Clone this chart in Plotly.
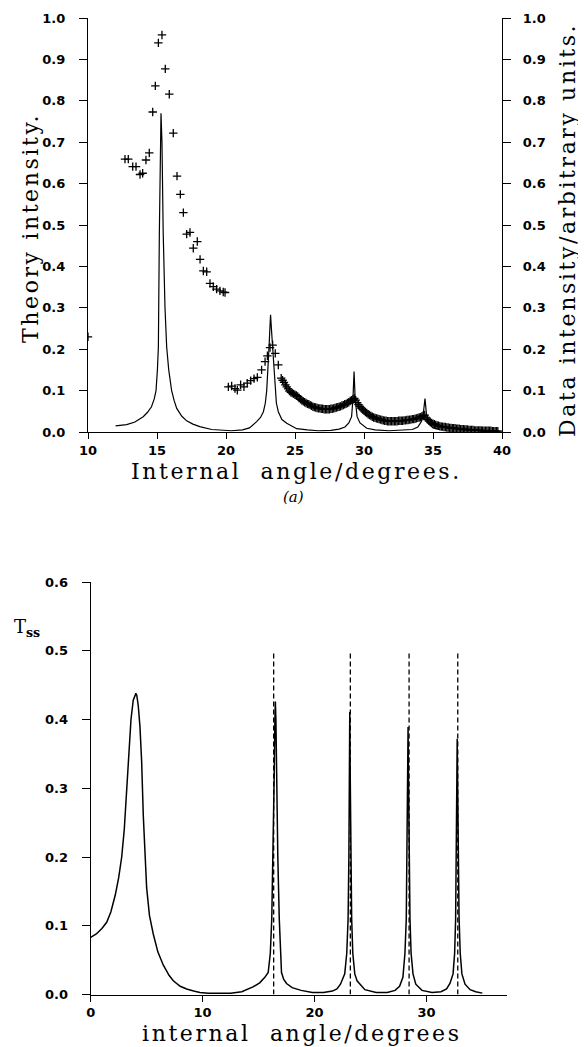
import plotly.graph_objects as go

# ---------------- Panel (a): theory curve (left axis) ----------------
theory_x = [12.0, 12.8, 13.4, 14.0, 14.3, 14.6, 14.8, 14.93, 15.03, 15.1, 15.17, 15.23, 15.29,
            15.36, 15.45, 15.58, 15.7, 15.85, 16.06, 16.25, 16.43, 16.8, 17.15, 17.6, 18.1, 18.96,
            19.7, 20.4, 21.2, 21.7, 22.22, 22.5, 22.71, 22.85, 22.95, 23.05, 23.12, 23.18, 23.23,
            23.29, 23.38, 23.46, 23.55, 23.65, 23.79, 24.05, 24.4, 25.12, 25.9, 26.69, 27.6, 28.2,
            28.62, 28.9, 29.1, 29.2, 29.28, 29.36, 29.5, 29.71, 30.2, 30.8, 31.8, 32.8, 33.5,
            33.9, 34.15, 34.3, 34.42, 34.52, 34.7, 35.0, 35.5]
theory_y = [0.015, 0.018, 0.024, 0.037, 0.047, 0.061, 0.080, 0.100, 0.150, 0.206, 0.480, 0.700, 0.770,
            0.700, 0.480, 0.300, 0.206, 0.150, 0.100, 0.075, 0.057, 0.038, 0.027, 0.019, 0.013, 0.006,
            0.004, 0.003, 0.005, 0.010, 0.025, 0.035, 0.049, 0.070, 0.100, 0.150, 0.206, 0.250, 0.283,
            0.250, 0.206, 0.150, 0.100, 0.070, 0.049, 0.030, 0.021, 0.008, 0.005, 0.003, 0.004, 0.007,
            0.012, 0.022, 0.037, 0.080, 0.146, 0.080, 0.037, 0.022, 0.009, 0.005, 0.003, 0.004, 0.006,
            0.012, 0.025, 0.045, 0.081, 0.045, 0.020, 0.010, 0.006]

# ---------------- Panel (a): measured data (right axis) ----------------
data_x = [10.0, 12.68, 12.92, 13.24, 13.48, 13.77, 13.96, 14.2, 14.44, 14.69, 14.88, 15.1, 15.36,
          15.6, 15.89, 16.18, 16.45, 16.69, 16.91, 17.15, 17.39, 17.63, 17.92, 18.12, 18.36, 18.6,
          18.84, 19.08, 19.32, 19.56, 19.8, 19.93,
          20.17, 20.41, 20.65, 20.82, 21.06, 21.3, 21.54, 21.79, 22.03, 22.27, 22.58, 22.83, 23.0,
          23.19, 23.38, 23.57, 23.79,
          24.0, 24.1, 24.2, 24.3, 24.4, 24.5, 24.6, 24.7, 24.8, 24.9,
          25.0, 25.1, 25.2, 25.3, 25.4, 25.5, 25.6, 25.7, 25.8, 25.9,
          26.0, 26.1, 26.2, 26.3, 26.4, 26.5, 26.6, 26.7, 26.8, 26.9,
          27.0, 27.1, 27.2, 27.3, 27.4, 27.5, 27.6, 27.7, 27.8, 27.9,
          28.0, 28.1, 28.2, 28.3, 28.4, 28.5, 28.6, 28.7, 28.8, 28.9,
          29.0, 29.1, 29.2, 29.3, 29.4, 29.5, 29.6, 29.7, 29.8, 29.9,
          30.0, 30.1, 30.2, 30.3, 30.4, 30.5, 30.6, 30.7, 30.8, 30.9,
          31.0, 31.1, 31.2, 31.3, 31.4, 31.5, 31.6, 31.7, 31.8, 31.9,
          32.0, 32.1, 32.2, 32.3, 32.4, 32.5, 32.6, 32.7, 32.8, 32.9,
          33.0, 33.1, 33.2, 33.3, 33.4, 33.5, 33.6, 33.7, 33.8, 33.9,
          34.0, 34.1, 34.2, 34.3, 34.4, 34.5, 34.6, 34.7, 34.8, 34.9,
          35.0, 35.1, 35.2, 35.3, 35.4, 35.5, 35.6, 35.7, 35.8, 35.9,
          36.0, 36.1, 36.2, 36.3, 36.4, 36.5, 36.6, 36.7, 36.8, 36.9,
          37.0, 37.1, 37.2, 37.3, 37.4, 37.5, 37.6, 37.7, 37.8, 37.9,
          38.0, 38.1, 38.2, 38.3, 38.4, 38.5, 38.6, 38.7, 38.8, 38.9,
          39.0, 39.1, 39.2, 39.3, 39.4, 39.5, 39.6, 39.7]
data_y = [0.23, 0.659, 0.659, 0.641, 0.641, 0.622, 0.625, 0.657, 0.674, 0.773, 0.836, 0.940, 0.959,
          0.877, 0.816, 0.722, 0.618, 0.574, 0.530, 0.478, 0.482, 0.444, 0.460, 0.417, 0.389, 0.387,
          0.359, 0.351, 0.345, 0.341, 0.338, 0.337,
          0.109, 0.111, 0.105, 0.101, 0.114, 0.109, 0.118, 0.124, 0.129, 0.132, 0.150, 0.170, 0.184,
          0.204, 0.210, 0.190, 0.162,
          0.130, 0.125, 0.120, 0.114, 0.109, 0.104, 0.099, 0.096, 0.094, 0.092,
          0.090, 0.088, 0.086, 0.082, 0.079, 0.076, 0.074, 0.072, 0.070, 0.068,
          0.067, 0.065, 0.063, 0.061, 0.060, 0.059, 0.058, 0.057, 0.057, 0.056,
          0.056, 0.055, 0.055, 0.055, 0.055, 0.055, 0.056, 0.056, 0.057, 0.058,
          0.059, 0.060, 0.061, 0.062, 0.064, 0.065, 0.067, 0.068, 0.070, 0.072,
          0.075, 0.077, 0.079, 0.081, 0.077, 0.071, 0.066, 0.062, 0.058, 0.054,
          0.051, 0.048, 0.046, 0.043, 0.041, 0.039, 0.037, 0.035, 0.034, 0.033,
          0.032, 0.031, 0.030, 0.029, 0.028, 0.027, 0.027, 0.026, 0.026, 0.026,
          0.026, 0.026, 0.026, 0.026, 0.026, 0.027, 0.027, 0.027, 0.027, 0.028,
          0.028, 0.029, 0.029, 0.030, 0.030, 0.031, 0.031, 0.032, 0.033, 0.034,
          0.035, 0.036, 0.038, 0.040, 0.041, 0.034, 0.030, 0.027, 0.024, 0.022,
          0.020, 0.019, 0.017, 0.016, 0.015, 0.014, 0.013, 0.013, 0.012, 0.012,
          0.011, 0.011, 0.010, 0.010, 0.009, 0.009, 0.009, 0.008, 0.008, 0.008,
          0.007, 0.007, 0.007, 0.006, 0.006, 0.006, 0.005, 0.005, 0.005, 0.005,
          0.004, 0.004, 0.004, 0.004, 0.004, 0.004, 0.003, 0.003, 0.003, 0.003,
          0.003, 0.003, 0.003, 0.002, 0.002, 0.002, 0.002, 0.002]

top_xticks = [10, 15, 20, 25, 30, 35, 40]
top_yticks = [0.0, 0.1, 0.2, 0.3, 0.4, 0.5, 0.6, 0.7, 0.8, 0.9, 1.0]

# ---------------- Panel (b): T_ss curve ----------------
tss_x = [0.0, 0.5, 1.0, 1.43, 1.8, 2.2, 2.5, 2.77, 3.0, 3.25, 3.45, 3.6, 3.8, 3.95, 4.04, 4.12,
         4.25, 4.4, 4.55, 4.7, 4.85, 5.0, 5.25, 5.59, 6.0, 6.48, 7.0, 7.38, 8.0, 8.57, 9.2, 9.76,
         10.5, 11.5, 12.5, 13.5, 14.5, 15.1, 15.56, 15.86, 16.05, 16.18, 16.3, 16.4, 16.46, 16.5,
         16.55, 16.62, 16.72, 16.85, 17.05, 17.25, 17.5, 18.0, 18.8, 19.8, 20.8, 21.6, 22.0, 22.32,
         22.7, 22.88, 23.0, 23.07, 23.11, 23.15, 23.19, 23.24, 23.32, 23.42, 23.6, 23.8, 24.05,
         24.5, 25.5, 26.5, 27.2, 27.6, 27.9, 28.08, 28.2, 28.27, 28.32, 28.36, 28.40, 28.45, 28.53,
         28.63, 28.8, 29.05, 29.6, 30.5, 31.3, 31.8, 32.1, 32.38, 32.52, 32.61, 32.68, 32.72, 32.75,
         32.79, 32.84, 32.92, 33.02, 33.17, 33.45, 33.9, 34.4, 35.0]
tss_y = [0.083, 0.088, 0.096, 0.105, 0.120, 0.145, 0.170, 0.200, 0.240, 0.300, 0.360, 0.400, 0.428,
         0.436, 0.438, 0.435, 0.420, 0.390, 0.340, 0.260, 0.200, 0.155, 0.115, 0.088, 0.062, 0.043,
         0.028, 0.020, 0.012, 0.008, 0.005, 0.003, 0.002, 0.002, 0.002, 0.004, 0.011, 0.017, 0.025,
         0.032, 0.060, 0.110, 0.200, 0.320, 0.400, 0.426, 0.400, 0.300, 0.200, 0.110, 0.032, 0.022,
         0.016, 0.010, 0.006, 0.003, 0.003, 0.005, 0.008, 0.015, 0.030, 0.060, 0.110, 0.200, 0.320,
         0.411, 0.320, 0.200, 0.110, 0.060, 0.030, 0.020, 0.015, 0.007, 0.003, 0.003, 0.006, 0.012,
         0.025, 0.060, 0.110, 0.200, 0.310, 0.389, 0.310, 0.200, 0.110, 0.060, 0.030, 0.015, 0.006,
         0.003, 0.004, 0.008, 0.016, 0.030, 0.060, 0.110, 0.200, 0.300, 0.372, 0.300, 0.200, 0.110,
         0.060, 0.030, 0.015, 0.007, 0.004, 0.002]

dash_positions = [16.35, 23.2, 28.45, 32.8]
dash_top = 0.5

bot_xticks = [0, 10, 20, 30]
bot_yticks = [0.0, 0.1, 0.2, 0.3, 0.4, 0.5, 0.6]

# ---------------- figure ----------------
fig = go.Figure()

fig.add_trace(go.Scatter(x=theory_x, y=theory_y, mode="lines",
                         line=dict(color="black", width=1.2), xaxis="x", yaxis="y",
                         showlegend=False, hoverinfo="skip"))
fig.add_trace(go.Scatter(x=data_x, y=data_y, mode="markers",
                         marker=dict(symbol="cross-thin", size=6, line=dict(color="black", width=1.3)),
                         xaxis="x", yaxis="y2", showlegend=False))

fig.add_trace(go.Scatter(x=tss_x, y=tss_y, mode="lines",
                         line=dict(color="black", width=1.5), xaxis="x2", yaxis="y3",
                         showlegend=False))
for p in dash_positions:
    fig.add_trace(go.Scatter(x=[p, p], y=[0, dash_top], mode="lines",
                             line=dict(color="black", width=1.3, dash="5px,3px"),
                             xaxis="x2", yaxis="y3", showlegend=False, hoverinfo="skip"))

tickfont = dict(family="DejaVu Sans, Liberation Sans, sans-serif", size=13, color="black",
                weight="bold")
axis_common = dict(showline=True, linecolor="black", linewidth=1.3, ticks="outside",
                   tickwidth=1.2, tickcolor="black", showgrid=False, zeroline=False,
                   tickfont=tickfont, automargin=False)
x_common = dict(axis_common, ticklen=6, ticklabelstandoff=0)
yl_common = dict(axis_common, ticklen=8, ticklabelstandoff=11)
yr_common = dict(axis_common, ticklen=8, ticklabelstandoff=9)

# The page body has an 8px default margin: figure is placed at (8, 8) in the window.
OFF = 8
W, H = 586 - OFF, 1047 - OFF
def px(x):
    return (x - OFF) / W
def py(y):
    return 1 - (y - OFF) / H

fig.update_layout(
    width=W, height=H,
    margin=dict(l=0, r=0, t=0, b=0),
    paper_bgcolor="white", plot_bgcolor="white",
    xaxis=dict(domain=[px(88), px(502)], range=[10, 40], tickvals=top_xticks,
               anchor="y", **x_common),
    yaxis=dict(domain=[py(432), py(18)], range=[0, 1.0], tickvals=top_yticks, tickformat=".1f",
               anchor="x", **yl_common),
    yaxis2=dict(overlaying="y", side="right", range=[0, 1.0], tickvals=top_yticks,
                tickformat=".1f", anchor="x", **yr_common),
    xaxis2=dict(domain=[px(90.7), px(507)], range=[0, 37.2], tickvals=bot_xticks,
                anchor="y3", **x_common),
    yaxis3=dict(domain=[py(994.5), py(582)], range=[0, 0.6], tickvals=bot_yticks,
                tickformat=".1f", anchor="x2", **yl_common),
)

serif = "DejaVu Serif, Liberation Serif, serif"
def spaced(t):
    return '<span style="letter-spacing:2.6px">' + t + '</span>'

ann = [
    dict(text=spaced("Theory intensity."), x=px(30), y=py(228), textangle=-90,
         font=dict(family=serif, size=22, color="black")),
    dict(text=spaced("Data intensity/arbitrary units."), x=px(567), y=py(230), textangle=-90,
         font=dict(family=serif, size=22, color="black")),
    dict(text=spaced("Internal\u00a0 angle/degrees."), x=px(296), y=py(471),
         font=dict(family=serif, size=22, color="black")),
    dict(text="<i>(a)</i>", x=px(293), y=py(497),
         font=dict(family=serif, size=15, color="black")),
    dict(text=spaced("internal\u00a0 angle/degrees"), x=px(302), y=py(1033),
         font=dict(family=serif, size=22, color="black")),
    dict(text="T<sub><b>ss</b></sub>", x=px(27), y=py(628),
         font=dict(family=serif, size=18, color="black")),
]
for a in ann:
    a.update(xref="paper", yref="paper", showarrow=False, xanchor="center", yanchor="middle")
fig.update_layout(annotations=ann)

fig.write_html("out.html")
